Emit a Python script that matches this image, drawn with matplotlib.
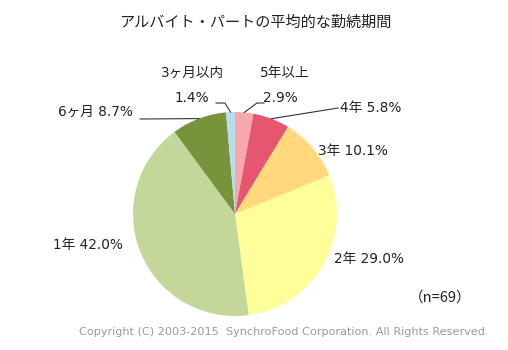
import numpy as np
import matplotlib
matplotlib.use("Agg")
import matplotlib.pyplot as plt

plt.rcParams['font.family'] = ['DejaVu Sans', 'Noto Sans CJK JP']

categories = ['5年以上', '4年', '3年', '2年', '1年', '6ヶ月', '3ヶ月以内']
values = [2.9, 5.8, 10.1, 29.0, 42.0, 8.7, 1.4]
colors = ['#F6A8AC', '#E6566E', '#FFD97C', '#FFFF99', '#C4D79B', '#77933C', '#B7DEE8']
title = 'アルバイト・パートの平均的な勤続期間'
n_text = '（n=69）'
copyright_text = 'Copyright (C) 2003-2015  SynchroFood Corporation. All Rights Reserved.'

W, H = 508, 350
fig = plt.figure(figsize=(W / 100, H / 100), dpi=100)

cx, cy, r = 235, 214, 102
ax = fig.add_axes([(cx - r) / W, (H - cy - r) / H, 2 * r / W, 2 * r / H])
wedges, _ = ax.pie(values, colors=colors, startangle=90, counterclock=False,
                   radius=1.0, wedgeprops=dict(linewidth=0))
ax.set_xlim(-1, 1)
ax.set_ylim(-1, 1)
ax.set_aspect('equal')
ax.axis('off')

def px2data(x, y):
    return ((x - cx) / r, (cy - y) / r)

def wedge_point(i, frac=1.0):
    w = wedges[i]
    ang = np.deg2rad((w.theta1 + w.theta2) / 2)
    return frac * np.cos(ang), frac * np.sin(ang)

fs = 9.8
tc = '#222222'
lab = [
    # (index, text, x_px, y_px, leader points in px or None, end radius)
    (0, '2.9%', 263, 98, [(264, 103), (257, 103)], 1.0),
    (1, '4年 5.8%', 340, 108, [(338, 108)], 1.0),
    (2, '3年 10.1%', 318, 151, None, 1.0),
    (3, '2年 29.0%', 334, 259, None, 1.0),
    (4, '1年 42.0%', 53, 245, None, 1.0),
    (5, '6ヶ月 8.7%', 58, 112, [(140, 119)], 1.0),
    (6, '1.4%', 175, 98, [(216, 103), (225, 103)], 1.0),
]
for i, txt, x, y, leader, er in lab:
    fig.text(x / W, 1 - y / H, txt, ha='left', va='center', fontsize=fs, color=tc)
    if leader:
        pts = [px2data(px, py) for px, py in leader]
        pts.append(wedge_point(i, er))
        xs, ys = zip(*pts)
        ax.plot(xs, ys, color='#333333', lw=0.8, clip_on=False)

fig.text(193 / W, 1 - 73 / H, categories[6], ha='center', va='center', fontsize=fs, color=tc)
fig.text(285 / W, 1 - 73 / H, categories[0], ha='center', va='center', fontsize=fs, color=tc)

fig.text(255 / W, 1 - 22 / H, title, ha='center', va='center', fontsize=10.9, color=tc,
         family=['Noto Sans CJK JP'])
fig.text(440 / W, 1 - 298 / H, n_text, ha='center', va='center', fontsize=10.5, color=tc,
         family=['Noto Sans CJK JP'])
fig.text(284 / W, 1 - 332 / H, copyright_text, ha='center', va='center', fontsize=8.1,
         color='#999999', family=['DejaVu Sans'])

fig.savefig('out.png', dpi=100, facecolor='white')
